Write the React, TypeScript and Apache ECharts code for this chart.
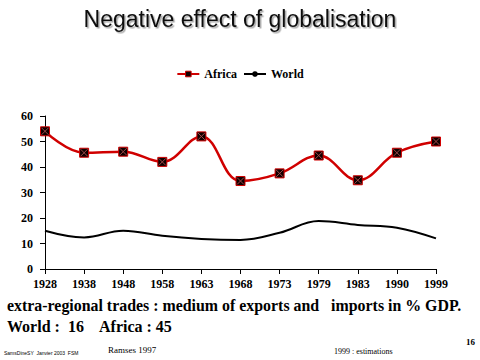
import React, { useEffect, useRef } from "react";
import * as echarts from "echarts";

const years = ["1928", "1938", "1948", "1958", "1963", "1968", "1973", "1979", "1983", "1990", "1999"];
const africa = [54, 45.6, 46, 42, 52, 34.5, 37.5, 44.5, 34.8, 45.6, 50];
const world = [15, 12.4, 15, 13, 11.8, 11.4, 14.2, 18.8, 17.3, 16.2, 12];
const yTicks = [0, 10, 20, 30, 40, 50, 60];

const serif = "'Liberation Serif', 'Times New Roman', serif";
const crossPath = "path://M0,0 L10,10 M10,0 L0,10";

export default function App() {
  const ref = useRef<HTMLDivElement>(null);
  useEffect(() => {
    if (!ref.current) return;
    const chart = echarts.init(ref.current, null, { renderer: "svg" });
    chart.setOption({
      animation: false,
      backgroundColor: "#ffffff",
      title: {
        text: "Negative effect of globalisation",
        left: "center",
        top: 2,
        textStyle: {
          fontFamily: "'Liberation Sans', Arial, sans-serif",
          fontWeight: "normal",
          fontSize: 23,
          color: "#111",
          textShadowColor: "rgba(0,0,0,0.35)",
          textShadowOffsetX: 1.5,
          textShadowOffsetY: 1.5,
          textShadowBlur: 1,
        },
      },
      legend: {
        top: 63,
        left: "center",
        itemWidth: 22,
        itemHeight: 7,
        itemGap: 6,
        textStyle: { fontFamily: serif, fontWeight: "bold", fontSize: 12, color: "#000" },
        data: [
          { name: "Africa", itemStyle: { color: "#100000", borderColor: "#d00000", borderWidth: 1 } },
          { name: "World" },
        ],
      },
      grid: { left: 45, right: 44, top: 116, bottom: 91, containLabel: false },
      xAxis: {
        type: "category",
        data: years,
        boundaryGap: false,
        axisLine: { lineStyle: { color: "#000", width: 1 } },
        axisTick: { alignWithLabel: true, length: 5, lineStyle: { color: "#000" } },
        axisLabel: { fontFamily: serif, fontWeight: "bold", fontSize: 12, color: "#000", margin: 9 },
      },
      yAxis: {
        type: "value",
        min: yTicks[0],
        max: yTicks[yTicks.length - 1],
        interval: 10,
        axisLine: { show: true, lineStyle: { color: "#000", width: 1 } },
        axisTick: { show: true, length: 5, lineStyle: { color: "#000" } },
        splitLine: { show: false },
        axisLabel: { fontFamily: serif, fontWeight: "bold", fontSize: 12, color: "#000", margin: 12 },
      },
      series: [
        {
          name: "Africa",
          type: "line",
          data: africa,
          smooth: 0.4,
          symbol: "rect",
          symbolSize: 10,
          showSymbol: false,
          lineStyle: { color: "#d00000", width: 2.5 },
          itemStyle: { color: "#100000", borderColor: "#d00000", borderWidth: 1 },
          z: 2,
        },
        {
          name: "AfricaBox",
          type: "scatter",
          data: africa,
          symbol: "rect",
          symbolSize: 9,
          itemStyle: { color: "#100000", borderColor: "#d00000", borderWidth: 1, opacity: 1 },
          silent: true,
          z: 4,
        },
        {
          name: "AfricaCross",
          type: "scatter",
          data: africa,
          symbol: crossPath,
          symbolSize: 7,
          itemStyle: { color: "none", borderColor: "#a04848", borderWidth: 1, opacity: 1 },
          silent: true,
          z: 5,
        },
        {
          name: "World",
          type: "line",
          data: world,
          smooth: 0.4,
          symbol: "none",
          lineStyle: { color: "#000", width: 2 },
          itemStyle: { color: "#000" },
        },
      ],
      graphic: [
        {
          type: "text",
          left: 7,
          top: 297,
          style: {
            text: "extra-regional trades : medium of exports and   imports in % GDP.",
            font: `bold 15.9px ${serif}`,
            fill: "#000",
          },
        },
        {
          type: "text",
          left: 7,
          top: 318,
          style: {
            text: "World :  16    Africa : 45",
            font: `bold 16px ${serif}`,
            fill: "#000",
          },
        },
        {
          type: "text",
          left: 4,
          top: 350,
          style: { text: "SamsDineSY  Janvier 2003  FSM", font: `5px 'Liberation Sans', sans-serif`, fill: "#000" },
        },
        {
          type: "text",
          left: 108,
          top: 345,
          style: { text: "Ramses 1997", font: `9px ${serif}`, fill: "#000" },
        },
        {
          type: "text",
          left: 334,
          top: 347,
          style: { text: "1999 : estimations", font: `8px ${serif}`, fill: "#000" },
        },
        {
          type: "text",
          left: 466,
          top: 337,
          style: { text: "16", font: `bold 9px ${serif}`, fill: "#000" },
        },
      ],
    });
    return () => chart.dispose();
  }, []);
  return <div ref={ref} style={{ width: 480, height: 360, position: "absolute", left: 0, top: 0 }} />;
}
